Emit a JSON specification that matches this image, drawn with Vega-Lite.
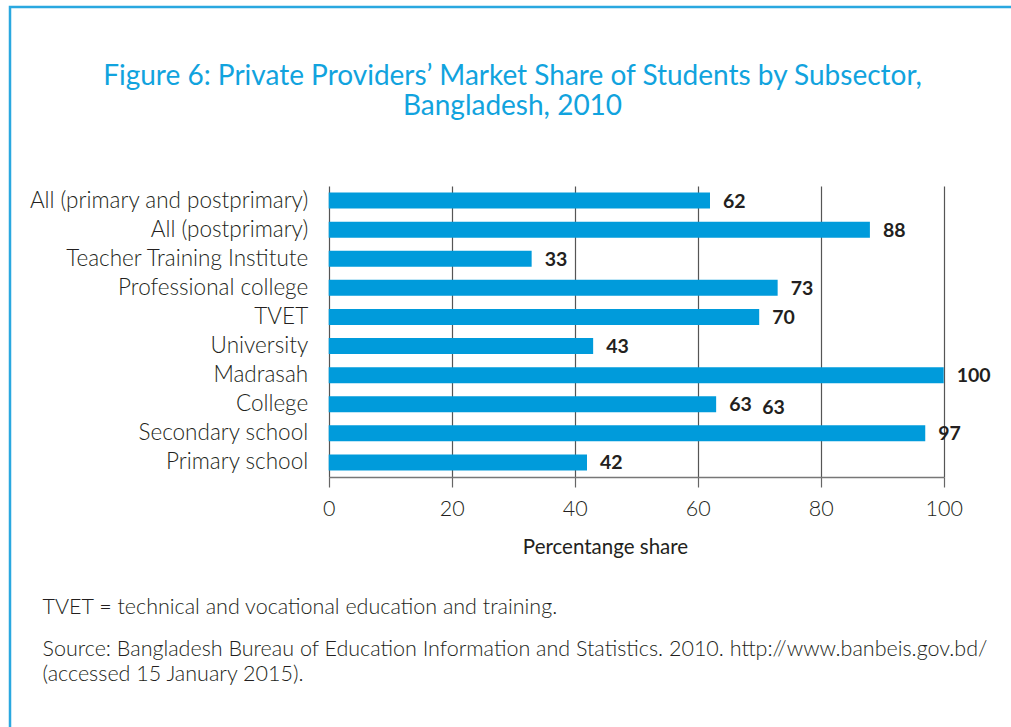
{
  "$schema": "https://vega.github.io/schema/vega-lite/v6.json",
  "width": 1011,
  "height": 727,
  "autosize": {"type": "none"},
  "padding": {"left": 10, "top": 7, "right": -10, "bottom": -7},
  "title": {
    "text": ["Figure 6: Private Providers’ Market Share of Students by Subsector,", "Bangladesh, 2010"],
    "anchor": "middle",
    "frame": "group",
    "baseline": "alphabetic",
    "offset": 0,
    "dy": 136,
    "dx": -3,
    "font": "Lato",
    "fontSize": 28,
    "fontWeight": 400,
    "color": "#11a3de",
    "lineHeight": 30
  },
  "data": {
    "values": [
      {"subsector": "All (primary and postprimary)", "share": 62},
      {"subsector": "All (postprimary)", "share": 88},
      {"subsector": "Teacher Training Institute", "share": 33},
      {"subsector": "Professional college", "share": 73},
      {"subsector": "TVET", "share": 70},
      {"subsector": "University", "share": 43},
      {"subsector": "Madrasah", "share": 100},
      {"subsector": "College", "share": 63, "repeat": 63},
      {"subsector": "Secondary school", "share": 97},
      {"subsector": "Primary school", "share": 42}
    ]
  },
  "encoding": {
    "y": {
      "field": "subsector",
      "type": "nominal",
      "sort": null,
      "scale": {"range": [179, 470], "paddingInner": 0.45, "paddingOuter": 0.225},
      "axis": {
        "title": ["Source: Bangladesh Bureau of Education Information and Statistics. 2010. http://www.banbeis.gov.bd/", "(accessed 15 January 2015)."],
        "titleAngle": 0,
        "titleAlign": "left",
        "titleBaseline": "alphabetic",
        "titleX": -286.7,
        "titleY": 648,
        "titleFont": "Lato",
        "titleFontSize": 21.5,
        "titleFontWeight": 300,
        "titleColor": "#231f20",
        "titleLineHeight": 25,
        "offset": -318.7,
        "domain": false,
        "ticks": false,
        "tickSize": 0,
        "grid": false,
        "labelPadding": 21,
        "labelFont": "Lato",
        "labelFontSize": 22.5,
        "labelFontWeight": 300,
        "labelColor": "#231f20",
        "labelLimit": 400
      }
    }
  },
  "layer": [
    {
      "encoding": {
        "x": {
          "field": "share",
          "type": "quantitative",
          "scale": {"domain": [0, 100], "range": [318.7, 933.7]},
          "axis": {
            "title": "Percentange share",
            "titleX": 595,
            "titleY": 76,
            "titleAlign": "center",
            "titleBaseline": "alphabetic",
            "titleFont": "Lato",
            "titleFontSize": 20.5,
            "titleFontWeight": 400,
            "titleColor": "#231f20",
            "offset": -257,
            "values": [0, 20, 40, 60, 80, 100],
            "grid": false,
            "domainColor": "#777777",
            "domainWidth": 1.5,
            "tickColor": "#666666",
            "tickSize": 10,
            "tickWidth": 1.2,
            "labelFont": "Lato",
            "labelFontSize": 21.5,
            "labelFontWeight": 300,
            "labelColor": "#231f20",
            "labelPadding": 11,
            "labelFlush": false
          }
        }
      },
      "layer": [
        {"mark": {"type": "bar", "color": "#009bdb"}},
        {
          "mark": {"type": "text", "align": "left", "baseline": "middle", "dx": 13, "dy": 1, "font": "Lato", "fontSize": 19.5, "fontWeight": "bold", "color": "#231f20"},
          "encoding": {"text": {"field": "share", "type": "quantitative"}}
        },
        {
          "transform": [{"filter": "isValid(datum.repeat)"}],
          "mark": {"type": "text", "align": "left", "baseline": "middle", "dx": 46, "dy": 4, "font": "Lato", "fontSize": 19.5, "fontWeight": "bold", "color": "#231f20"},
          "encoding": {"text": {"field": "repeat", "type": "quantitative"}}
        }
      ]
    },
    {
      "mark": {"type": "point", "opacity": 0},
      "encoding": {
        "x": {
          "field": "share",
          "type": "quantitative",
          "scale": {"domain": [0, 100], "range": [318.7, 933.7]},
          "axis": {
            "orient": "top",
            "values": [0, 20, 40, 60, 80, 100],
            "grid": true,
            "gridColor": "#555555",
            "gridWidth": 1.2,
            "domain": false,
            "ticks": false,
            "labels": false,
            "title": "TVET = technical and vocational education and training.",
            "titleAngle": 0,
            "titleAlign": "left",
            "titleBaseline": "alphabetic",
            "titleX": 32,
            "titleY": 606,
            "titleFont": "Lato",
            "titleFontSize": 21.5,
            "titleFontWeight": 300,
            "titleColor": "#231f20"
          }
        }
      }
    }
  ],
  "resolve": {"axis": {"x": "independent"}},
  "config": {"view": {"stroke": "#2aa8e0", "strokeWidth": 2.5}}
}
